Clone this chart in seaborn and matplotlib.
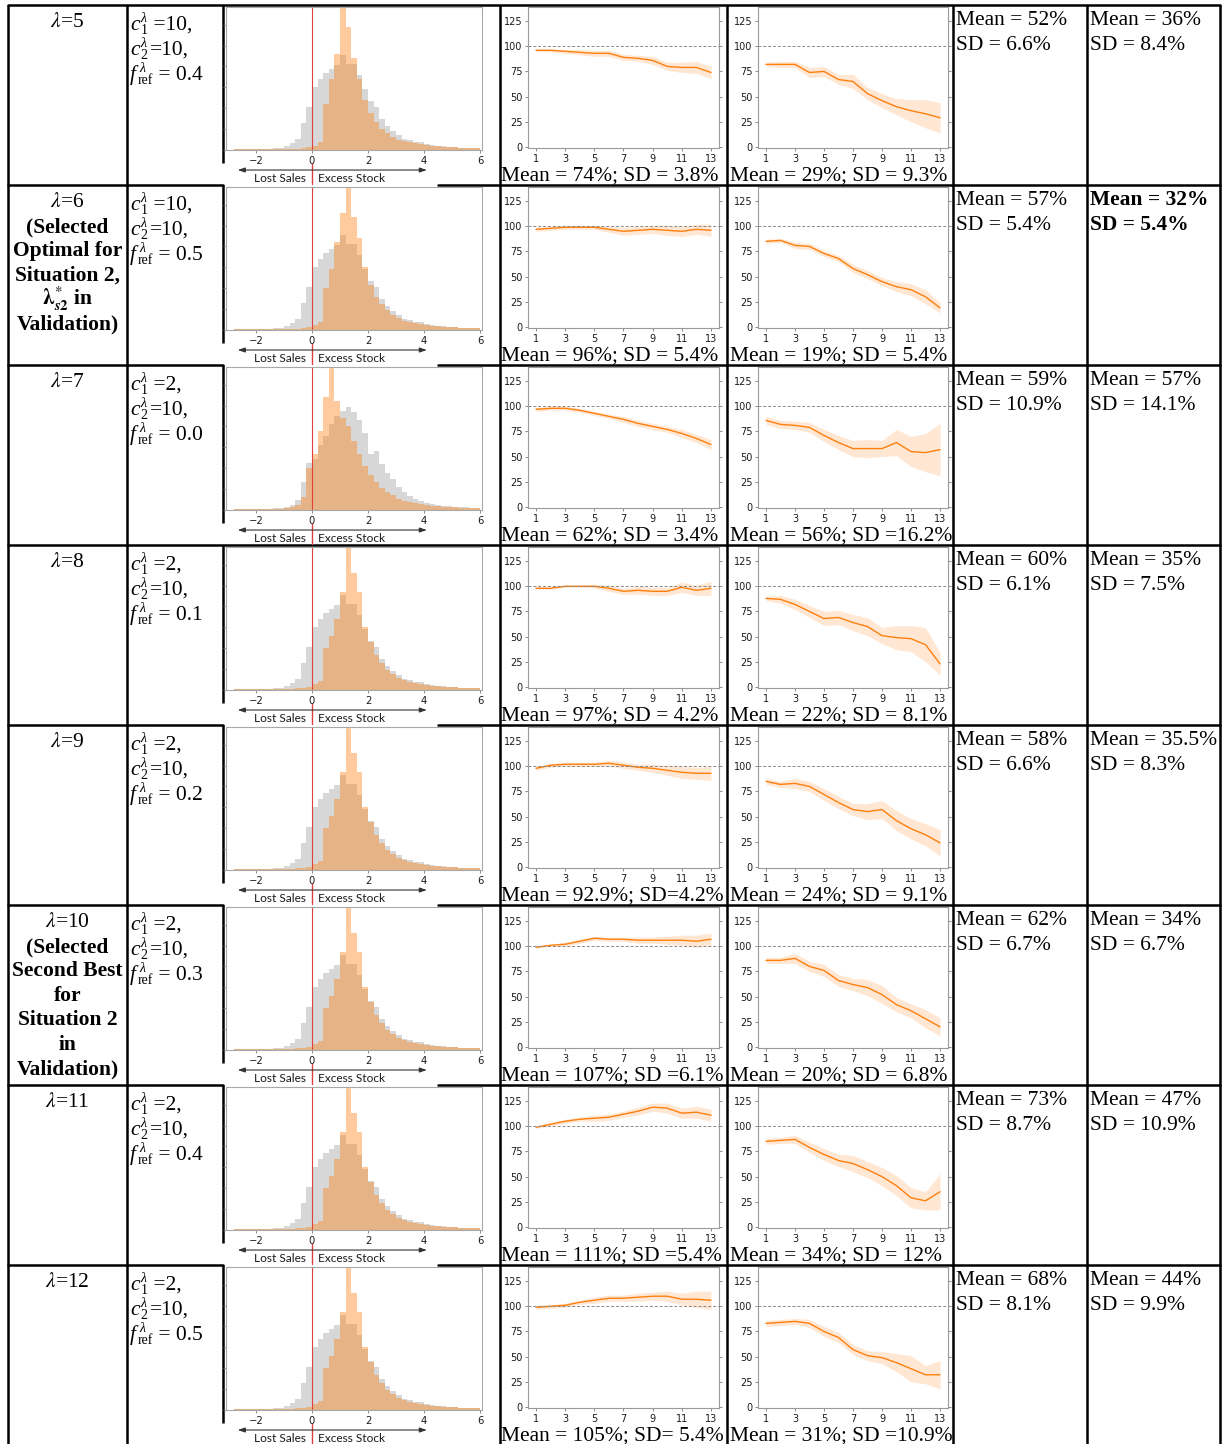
import numpy as np
import pandas as pd
import matplotlib
matplotlib.use("Agg")
import matplotlib.pyplot as plt
import seaborn as sns

sns.set_theme(style="white")
plt.rcParams["font.family"] = ["DejaVu Sans"]
plt.rcParams["mathtext.fontset"] = "stix"

W, H = 1222, 1444
SERIF = ["Liberation Serif", "DejaVu Serif"]
ORANGE = "#ff7f0e"
RED = "#e0403f"

# ---------------- table content ----------------
LAMBDAS = [5, 6, 7, 8, 9, 10, 11, 12]
C1 = [10, 10, 2, 2, 2, 2, 2, 2]
C2 = [10, 10, 10, 10, 10, 10, 10, 10]
F_REF = ["0.4", "0.5", "0.0", "0.1", "0.2", "0.3", "0.4", "0.5"]
ROW_NOTES = {
    1: ["(Selected", "Optimal for", "Situation 2,",
        r"$\boldsymbol{\lambda}^{*}_{\boldsymbol{s2}}$ in", "Validation)"],
    5: ["(Selected", "Second Best", "for", "Situation 2", "in", "Validation)"],
}

LEFT_STATS = ["Mean = 74%; SD = 3.8%", "Mean = 96%; SD = 5.4%", "Mean = 62%; SD = 3.4%",
              "Mean = 97%; SD = 4.2%", "Mean = 92.9%; SD=4.2%", "Mean = 107%; SD =6.1%",
              "Mean = 111%; SD =5.4%", "Mean = 105%; SD= 5.4%"]
RIGHT_STATS = ["Mean = 29%; SD = 9.3%", "Mean = 19%; SD = 5.4%", "Mean = 56%; SD =16.2%",
               "Mean = 22%; SD = 8.1%", "Mean = 24%; SD = 9.1%", "Mean = 20%; SD = 6.8%",
               "Mean = 34%; SD = 12%", "Mean = 31%; SD =10.9%"]
COL5_MEAN = ["52%", "57%", "59%", "60%", "58%", "62%", "73%", "68%"]
COL5_SD = ["6.6%", "5.4%", "10.9%", "6.1%", "6.6%", "6.7%", "8.7%", "8.1%"]
COL6_MEAN = ["36%", "32%", "57%", "35%", "35.5%", "34%", "47%", "44%"]
COL6_SD = ["8.4%", "5.4%", "14.1%", "7.5%", "8.3%", "6.7%", "10.9%", "9.9%"]
COL6_BOLD_ROW = 1

# ---------------- histogram counts (44 bins of 0.2 from -2.8 to 6.0) ----------------
BIN_RANGE = (-2.8, 6.0)
N_BINS = 44
BIN_CENTERS = [round(-2.7 + 0.2 * i, 2) for i in range(N_BINS)]

GRAY_MAIN = [4, 4, 5, 5, 6, 6, 7, 8, 10,
             18, 35, 55, 130, 205, 300, 340, 370, 390, 405,
             455, 410, 410, 360, 290, 235, 205, 150, 115, 90,
             70, 55, 48, 40, 38, 28, 22, 20, 17, 14,
             13, 11, 10, 9, 8]
GRAY_R7 = [4, 4, 5, 5, 6, 6, 7, 8, 10,
           15, 25, 50, 135, 225, 245, 310, 355, 410, 450,
           475, 495, 470, 430, 370, 270, 285, 220, 175, 150,
           110, 85, 65, 55, 45, 35, 28, 24, 20, 18,
           15, 13, 12, 10, 9]
ORANGE_R5 = [3, 3, 3, 3, 3, 4, 4, 4, 5,
             5, 6, 7, 9, 12, 20, 40, 220, 340, 460,
             700, 590, 440, 340, 240, 175, 135, 100, 80, 62,
             50, 42, 36, 32, 28, 24, 20, 17, 15, 13,
             12, 11, 10, 9, 8]
ORANGE_R6 = [3, 3, 3, 3, 3, 4, 4, 4, 5,
             5, 6, 7, 9, 12, 22, 40, 200, 290, 420,
             560, 700, 540, 440, 300, 215, 160, 125, 95, 72,
             56, 45, 38, 33, 29, 25, 21, 18, 16, 14,
             12, 11, 10, 9, 8]
ORANGE_R7 = [3, 3, 3, 3, 4, 4, 5, 5, 6,
             8, 12, 22, 60, 200, 270, 380, 540, 700, 520,
             440, 400, 330, 270, 210, 170, 135, 105, 85, 70,
             55, 45, 40, 34, 30, 25, 20, 17, 15, 13,
             12, 11, 10, 9, 8]
ORANGE_MAIN = [3, 3, 3, 3, 3, 4, 4, 4, 5,
               5, 6, 8, 10, 14, 30, 45, 200, 260, 340,
               470, 700, 560, 470, 300, 230, 170, 130, 95, 75,
               58, 46, 40, 34, 30, 25, 21, 18, 16, 14,
               12, 11, 10, 9, 8]
HIST_GRAY = [GRAY_MAIN, GRAY_MAIN, GRAY_R7, GRAY_MAIN, GRAY_MAIN, GRAY_MAIN, GRAY_MAIN, GRAY_MAIN]
HIST_ORANGE = [ORANGE_R5, ORANGE_R6, ORANGE_R7, ORANGE_MAIN, ORANGE_MAIN,
               ORANGE_MAIN, ORANGE_MAIN, ORANGE_MAIN]

# ---------------- ratio series (percent) per step ----------------
STEPS = list(range(1, 14))

LEFT_MEAN = [
    [96, 96, 95, 94, 93, 93, 89, 88, 86, 80, 79, 79, 74],
    [97, 98, 99, 99, 99, 97, 95, 96, 97, 96, 95, 97, 96],
    [97, 98, 98, 96, 93, 90, 87, 83, 80, 77, 73, 68, 62],
    [98, 98, 100, 100, 100, 98, 95, 96, 95, 95, 99, 96, 98],
    [98, 101, 102, 102, 102, 103, 101, 99, 98, 96, 94, 93, 93],
    [99, 101, 102, 105, 108, 107, 107, 106, 106, 106, 106, 105, 107],
    [99, 102, 105, 107, 108, 109, 112, 115, 119, 118, 113, 114, 111],
    [99, 100, 101, 104, 106, 108, 108, 109, 110, 110, 107, 107, 106],
]
LEFT_HALF = [
    [1.5, 1.5, 2, 2.5, 3, 3, 3, 3, 4, 4, 5, 6, 6],
    [2, 2, 2, 2, 2, 3, 4, 4, 4, 5, 5, 5, 6],
    [2, 2, 2, 2, 2, 2, 3, 3, 3, 3, 4, 4, 5],
    [1, 1, 1, 1, 2, 3, 3, 4, 4, 4, 5, 5, 7],
    [2, 2, 2, 2, 2, 3, 3, 3, 4, 5, 6, 6, 7],
    [1, 1, 2, 2, 2, 2, 2, 3, 3, 4, 5, 6, 6],
    [1, 2, 2, 2, 3, 3, 3, 4, 4, 5, 5, 6, 6],
    [2, 2, 2, 2, 3, 3, 3, 4, 4, 5, 6, 8, 9],
]
RIGHT_MEAN = [
    [82, 82, 82, 74, 75, 67, 65, 53, 46, 40, 36, 33, 29],
    [85, 86, 81, 80, 73, 68, 58, 52, 45, 40, 37, 30, 19],
    [86, 82, 81, 79, 71, 64, 58, 58, 58, 64, 55, 54, 57],
    [88, 87, 82, 75, 68, 69, 64, 60, 51, 49, 48, 42, 23],
    [85, 82, 83, 80, 72, 64, 57, 55, 57, 46, 38, 32, 24],
    [86, 86, 88, 80, 76, 66, 62, 59, 52, 42, 36, 28, 20],
    [85, 86, 87, 79, 72, 66, 63, 57, 50, 41, 29, 26, 35],
    [83, 84, 85, 83, 75, 69, 57, 51, 49, 44, 38, 32, 32],
]
RIGHT_HALF = [
    [2, 3, 3, 5, 5, 5, 7, 6, 7, 8, 11, 14, 15],
    [2, 2, 3, 3, 3, 3, 4, 4, 4, 5, 6, 7, 5],
    [4, 4, 4, 5, 6, 7, 8, 9, 8, 13, 15, 19, 26],
    [2, 4, 5, 6, 7, 7, 8, 9, 8, 12, 13, 17, 11],
    [3, 3, 5, 5, 6, 6, 6, 8, 9, 10, 10, 11, 13],
    [3, 3, 5, 5, 6, 6, 6, 8, 9, 7, 7, 9, 9],
    [3, 3, 4, 5, 6, 6, 8, 8, 9, 10, 10, 9, 18],
    [3, 3, 3, 4, 5, 5, 5, 5, 6, 9, 13, 9, 14],
]

# ---------------- layout (pixels) ----------------
ROW_TOPS = [5, 185, 365, 545, 725, 905, 1085, 1265]
COL_X = [8, 127, 223, 500, 727, 953, 1087, 1220]

fig = plt.figure(figsize=(W / 100, H / 100), dpi=100)
bg = fig.add_axes([0, 0, 1, 1], zorder=0)
bg.set_xlim(0, W)
bg.set_ylim(H, 0)
bg.axis("off")


def px_axes(x0, y0, x1, y1):
    ax = fig.add_axes([x0 / W, 1 - y1 / H, (x1 - x0) / W, (y1 - y0) / H], zorder=1)
    return ax


def serif(x, y, s, bold=False, ha="left", size=15.5, italic=False):
    bg.text(x, y, s, fontsize=size, family=SERIF, ha=ha, va="baseline",
            fontweight="bold" if bold else "normal",
            fontstyle="italic" if italic else "normal", color="black")


def scripted(x, y, base, sub, rest, sup_x, sub_x, rest_x):
    """Symbol with a stacked lambda superscript and a subscript, then plain text."""
    serif(x, y, base, italic=True)
    serif(sup_x, y - 8, "λ", italic=True, size=10)
    serif(sub_x, y + 4, sub, size=10)
    serif(rest_x, y, rest)


LW = 1.8
# grid lines
for x in COL_X:
    if x == 223:
        for t in ROW_TOPS:
            bg.plot([x, x], [t, t + 158], color="black", lw=LW, solid_capstyle="butt")
    else:
        bg.plot([x, x], [5, H], color="black", lw=LW, solid_capstyle="butt")
bg.plot([COL_X[0], COL_X[-1]], [5, 5], color="black", lw=LW)
for t in ROW_TOPS[1:]:
    if t == 545:
        bg.plot([COL_X[0], COL_X[-1]], [t, t], color="black", lw=LW)
    else:
        bg.plot([COL_X[0], 223], [t, t], color="black", lw=LW)
        bg.plot([438, COL_X[-1]], [t, t], color="black", lw=LW)


def style_frame(ax, color="#9a9a9a"):
    for sp in ax.spines.values():
        sp.set_visible(True)
        sp.set_color(color)
        sp.set_linewidth(0.8)


for r in range(8):
    top = ROW_TOPS[r]

    # parameter columns
    serif(67.5, top + 22, rf"$\lambda$={LAMBDAS[r]}", ha="center")
    for k, line in enumerate(ROW_NOTES.get(r, [])):
        serif(67.5, top + 47 + 24.4 * k, line, bold=True, ha="center")
    scripted(130, top + 25, "c", "1", f" ={C1[r]},", 140.5, 140.5, 148.5)
    scripted(130, top + 50, "c", "2", f"={C2[r]},", 140.5, 140.5, 149.5)
    scripted(130, top + 75, "f", "ref", f" = {F_REF[r]}", 139.5, 137.5, 153)

    # error distribution histogram
    axh = px_axes(226, top + 2, 482, top + 145)
    gray_df = pd.DataFrame({"err": BIN_CENTERS, "count": HIST_GRAY[r]})
    orange_df = pd.DataFrame({"err": BIN_CENTERS, "count": HIST_ORANGE[r]})
    sns.histplot(data=gray_df, x="err", weights="count", bins=N_BINS, binrange=BIN_RANGE,
                 color="#bfbfbf", alpha=0.62, linewidth=0, ax=axh)
    sns.histplot(data=orange_df, x="err", weights="count", bins=N_BINS, binrange=BIN_RANGE,
                 color=ORANGE, alpha=0.40, linewidth=0, ax=axh)
    axh.axvline(0, color=RED, lw=0.8)
    axh.set_xlim(-3.07, 6.07)
    axh.set_ylim(0, 685)
    axh.set_yticks(range(0, 700, 100))
    axh.set_yticklabels([])
    axh.set_xticks([-2, 0, 2, 4, 6])
    axh.set_xlabel("")
    axh.set_ylabel("")
    style_frame(axh, "#a8a8a8")
    axh.tick_params(axis="both", left=True, bottom=True, length=2.5, width=0.6,
                    color="#777777", labelsize=7.2, pad=1.5, labelcolor="#1a1a1a")
    xt = axh.get_xaxis_transform()
    axh.annotate("", xy=(4.1, -0.14), xytext=(-2.65, -0.14), xycoords=xt, textcoords=xt,
                 arrowprops=dict(arrowstyle="<|-|>,head_length=0.35,head_width=0.12",
                                 color="#333333", lw=0.8, shrinkA=0, shrinkB=0),
                 annotation_clip=False)
    axh.plot([0, 0], [-0.10, -0.24], transform=xt, color=RED, lw=1.0, clip_on=False)
    axh.text(-0.22, -0.2, "Lost Sales", transform=xt, ha="right", va="center",
             fontsize=8.6, family=["Lato", "DejaVu Sans"], color="#1a1a1a", clip_on=False)
    axh.text(0.21, -0.2, "Excess Stock", transform=xt, ha="left", va="center",
             fontsize=8.6, family=["Lato", "DejaVu Sans"], color="#1a1a1a", clip_on=False)

    # ratio line charts
    for (x0, x1, means, halves, stat) in [
        (528, 719, LEFT_MEAN[r], LEFT_HALF[r], LEFT_STATS[r]),
        (758, 948, RIGHT_MEAN[r], RIGHT_HALF[r], RIGHT_STATS[r]),
    ]:
        ax = px_axes(x0, top + 2, x1, top + 143)
        m = np.asarray(means, dtype=float)
        h = np.asarray(halves, dtype=float)
        ax.fill_between(STEPS, m - h, m + h, color=ORANGE, alpha=0.18, lw=0)
        line_df = pd.DataFrame({"step": STEPS, "ratio": means})
        sns.lineplot(data=line_df, x="step", y="ratio", ax=ax, color=ORANGE, lw=1.0)
        ax.axhline(100, color="#888888", ls="--", lw=0.7, dashes=(3, 2))
        ax.set_xlim(0.45, 13.55)
        ax.set_ylim(-1, 139)
        ax.set_yticks([0, 25, 50, 75, 100, 125])
        ax.set_xticks([1, 3, 5, 7, 9, 11, 13])
        ax.set_xlabel("")
        ax.set_ylabel("")
        style_frame(ax)
        ax.tick_params(axis="both", left=True, right=True, bottom=True, labelright=False,
                       length=2.5, width=0.6, color="#777777", labelsize=7, pad=1.5,
                       labelcolor="#1a1a1a")
        col_left = 500 if x0 < 700 else 729
        serif(col_left + 1, top + 175, stat)

    # summary columns
    serif(956, top + 20, f"Mean = {COL5_MEAN[r]}")
    serif(956, top + 45, f"SD = {COL5_SD[r]}")
    b = (r == COL6_BOLD_ROW)
    serif(1090, top + 20, f"Mean = {COL6_MEAN[r]}", bold=b)
    serif(1090, top + 45, f"SD = {COL6_SD[r]}", bold=b)

fig.savefig("out.png", dpi=100, facecolor="white")
